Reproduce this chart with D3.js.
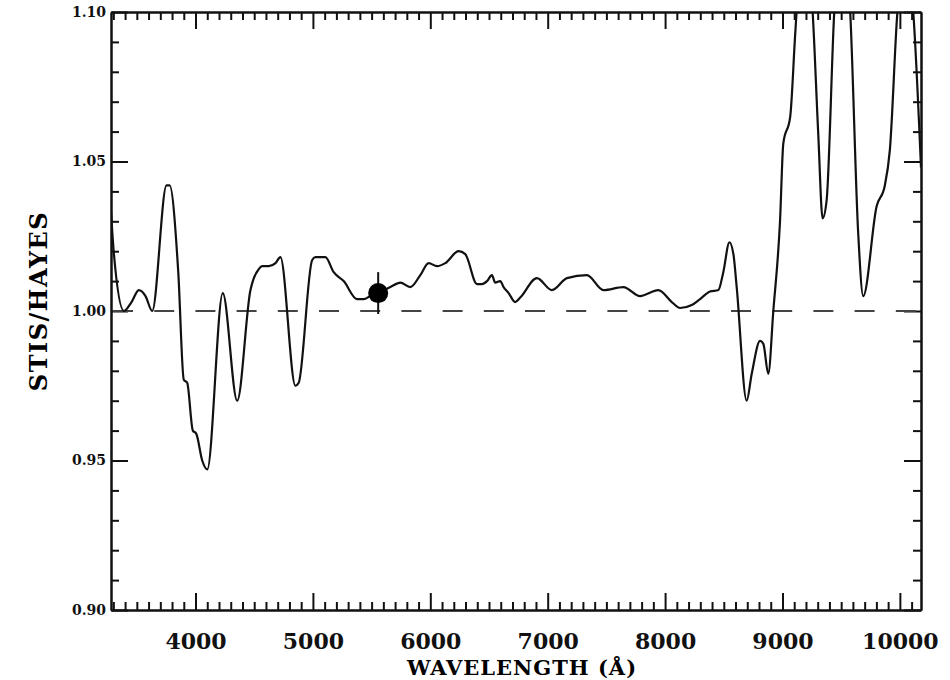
<!DOCTYPE html>
<html>
<head>
<meta charset="utf-8">
<script src="https://cdn.jsdelivr.net/npm/d3@7"></script>
<style>
  body { margin: 0; background: #fff; }
  .axis text { font-family: "DejaVu Serif", serif; font-weight: bold; fill: #111; }
</style>
</head>
<body>
<div id="chart"></div>
<script>
const wavelengths = [3280, 3305, 3390, 3455, 3517, 3574, 3631, 3753, 3779, 3853, 3900, 3929, 3977, 4006, 4057, 4100,
  4232, 4355, 4468, 4488, 4539, 4568, 4624, 4681, 4723, 4851, 4879, 4993, 5021, 5064, 5106, 5177, 5262,
  5376, 5432, 5489, 5557, 5660, 5745, 5830, 5915, 5986, 6057, 6128, 6241, 6298, 6398, 6440, 6483, 6525,
  6553, 6596, 6624, 6667, 6723, 6766, 6908, 7036, 7164, 7334, 7475, 7645, 7787, 7943, 8057, 8128, 8227,
  8298, 8383, 8454, 8496, 8548, 8582, 8610, 8695, 8738, 8809, 8837, 8879, 8922, 8979, 9007, 9066, 9109,
  9180, 9257, 9305, 9342, 9376, 9441, 9510, 9577, 9645, 9688, 9802, 9872, 9915, 9979, 10050, 10114, 10180];
const ratios = [1.033, 1.019, 1.000, 1.003, 1.007, 1.005, 1.000, 1.042, 1.042, 1.013, 0.977, 0.976, 0.960, 0.959, 0.950, 0.947,
  1.006, 0.970, 1.007, 1.010, 1.014, 1.015, 1.015, 1.016, 1.018, 0.975, 0.976, 1.017, 1.018, 1.018, 1.018, 1.013, 1.010,
  1.004, 1.004, 1.005, 1.006, 1.008, 1.0095, 1.008, 1.012, 1.016, 1.015, 1.016, 1.020, 1.019, 1.009, 1.009, 1.010, 1.012,
  1.0095, 1.010, 1.008, 1.006, 1.003, 1.0045, 1.011, 1.007, 1.011, 1.012, 1.007, 1.008, 1.005, 1.007, 1.003, 1.001, 1.002,
  1.004, 1.0065, 1.007, 1.013, 1.023, 1.019, 1.008, 0.970, 0.979, 0.990, 0.989, 0.979, 1.000, 1.030, 1.056, 1.065, 1.093,
  1.130, 1.100, 1.059, 1.031, 1.037, 1.100, 1.130, 1.100, 1.026, 1.005, 1.035, 1.042, 1.054, 1.100, 1.120, 1.100, 1.048];

const xTickLabels = [4000, 5000, 6000, 7000, 8000, 9000, 10000];
const yTickLabels = [0.90, 0.95, 1.00, 1.05, 1.10];

// V-band normalisation point
const refPoint = { wavelength: 5556, ratio: 1.006, errLow: 0.999, errHigh: 1.013 };

const margin = { top: 12, right: 29, bottom: 70, left: 111 };
const width = 950 - margin.left - margin.right;
const height = 680 - margin.top - margin.bottom;

const svg = d3.select("#chart")
  .append("svg")
  .attr("width", width + margin.left + margin.right)
  .attr("height", height + margin.top + margin.bottom)
  .append("g")
  .attr("transform", `translate(${margin.left},${margin.top})`);

const x = d3.scaleLinear().domain([3280, 10180]).range([0, width]);
const y = d3.scaleLinear().domain([0.90, 1.10]).range([height, 0]);

const xMinor = d3.range(3300, 10180, 100).filter(d => d % 1000 !== 0);
const yMinor = d3.range(91, 110).filter(d => d % 5 !== 0).map(d => d / 100);

const MAJOR = 17, MINOR = 8;
const noLabel = () => "";

// draws one side of the frame: minor ticks first, then the major ones
function side(axisFn, scale, minor, major, transform, fmt) {
  const g = svg.append("g").attr("class", "axis").attr("transform", transform);
  g.append("g").call(axisFn(scale).tickValues(minor).tickSize(-MINOR).tickSizeOuter(0).tickFormat(noLabel));
  g.append("g").call(axisFn(scale).tickValues(major).tickSize(-MAJOR).tickSizeOuter(0).tickFormat(fmt || noLabel));
  g.selectAll("line").attr("stroke", "#111").attr("stroke-width", 2);
  g.selectAll("path").attr("stroke", "#111").attr("stroke-width", 2);
  return g;
}

const bottomAxis = side(d3.axisBottom, x, xMinor, xTickLabels, `translate(0,${height})`, d3.format("d"));
bottomAxis.selectAll("text").style("font-size", "22px").attr("y", 23);
side(d3.axisTop, x, xMinor, xTickLabels, "translate(0,0)");
const leftAxis = side(d3.axisLeft, y, yMinor, yTickLabels, "translate(0,0)", d3.format(".2f"));
leftAxis.selectAll("text").style("font-size", "14px").attr("x", -5);
side(d3.axisRight, y, yMinor, yTickLabels, `translate(${width},0)`);

// reference line at unity
svg.append("line")
  .attr("x1", 0).attr("x2", width)
  .attr("y1", y(1)).attr("y2", y(1))
  .attr("stroke", "#444")
  .attr("stroke-width", 2)
  .attr("stroke-dasharray", "20,21.2")
  .attr("stroke-dashoffset", -2);

svg.append("clipPath").attr("id", "clip")
  .append("rect").attr("width", width).attr("height", height);

const line = d3.line()
  .x((d, i) => x(wavelengths[i]))
  .y(d => y(d))
  .curve(d3.curveMonotoneX);

svg.append("path")
  .datum(ratios)
  .attr("clip-path", "url(#clip)")
  .attr("fill", "none")
  .attr("stroke", "#111")
  .attr("stroke-width", 2.2)
  .attr("d", line);

// normalisation point with error bar
svg.append("line")
  .attr("x1", x(refPoint.wavelength)).attr("x2", x(refPoint.wavelength))
  .attr("y1", y(refPoint.errHigh)).attr("y2", y(refPoint.errLow))
  .attr("stroke", "#111").attr("stroke-width", 2);

svg.append("circle")
  .attr("cx", x(refPoint.wavelength))
  .attr("cy", y(refPoint.ratio))
  .attr("r", 10)
  .attr("fill", "#000");

// axis titles
svg.append("text")
  .attr("x", width / 2 + 6)
  .attr("y", height + 65)
  .attr("text-anchor", "middle")
  .style("font-family", "DejaVu Serif, serif")
  .style("font-weight", "bold")
  .style("font-size", "21px")
  .style("letter-spacing", "1px")
  .text("WAVELENGTH (Å)");

svg.append("text")
  .attr("transform", `translate(${-64},${height / 2 - 10}) rotate(-90)`)
  .attr("text-anchor", "middle")
  .style("font-family", "DejaVu Serif, serif")
  .style("font-weight", "bold")
  .style("font-size", "24px")
  .style("letter-spacing", "1.5px")
  .text("STIS/HAYES");
</script>
</body>
</html>
